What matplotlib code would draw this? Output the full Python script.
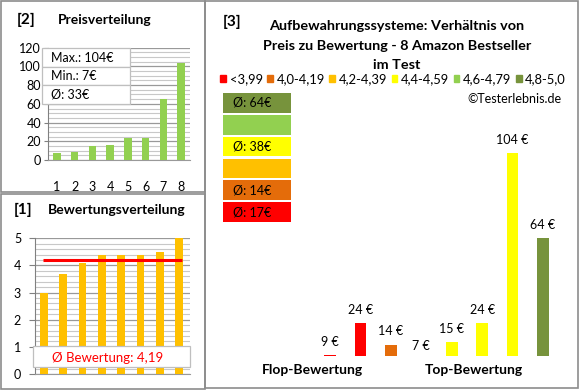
import matplotlib
matplotlib.use("Agg")
import matplotlib.pyplot as plt
from matplotlib.patches import Rectangle, Patch
from matplotlib.ticker import MultipleLocator

plt.rcParams['font.family'] = ['Lato', 'DejaVu Sans']

# data
price_idx = [1, 2, 3, 4, 5, 6, 7, 8]
prices_sorted = [7, 9, 15, 16, 24, 24, 65, 104]
ratings_sorted = [3.0, 3.7, 4.1, 4.4, 4.4, 4.4, 4.5, 5.0]
avg_rating = 4.19
price_stats = ['Max.: 104€', 'Min.: 7€', 'Ø: 33€']

# products ordered by rating (panel 3)
prod_prices = [9, 24, 14, 7, 15, 24, 104, 64]
prod_colors = ['#FF0000', '#FF0000', '#E46C0A', '#FFFF00', '#FFFF00', '#FFFF00', '#FFFF00', '#77933C']
class_labels = ['<3,99', '4,0-4,19', '4,2-4,39', '4,4-4,59', '4,6-4,79', '4,8-5,0']
class_colors = ['#FF0000', '#E46C0A', '#FFC000', '#FFFF00', '#92D050', '#77933C']
class_avgs = ['Ø: 17€', 'Ø: 14€', '', 'Ø: 38€', '', 'Ø: 64€']

W, H = 580, 390
def fx(x):
    return x / W
def fy(y):
    return 1 - y / H
def rect(x0, y0, x1, y1):
    return [fx(x0), fy(y1), fx(x1) - fx(x0), fy(y0) - fy(y1)]

fig = plt.figure(figsize=(5.8, 3.9), dpi=100)
fig.patch.set_facecolor('white')

# panel borders
border = '#8c8c8c'
for (x0, y0, x1, y1) in [(1, 1, 205, 192), (1, 194, 205, 389), (205, 1, 578, 388)]:
    fig.add_artist(Rectangle((fx(x0), fy(y1)), fx(x1) - fx(x0), fy(y0) - fy(y1),
                             transform=fig.transFigure, fill=False, ec=border, lw=1.2))

# ---- [2] Preisverteilung
ax2 = fig.add_axes(rect(48, 47.7, 190, 160))
ax2.bar(price_idx, prices_sorted, width=0.43, color='#92D050', zorder=3)
ax2.set_xlim(0.5, 8.5)
ax2.set_ylim(0, 120)
ax2.yaxis.set_major_locator(MultipleLocator(20))
ax2.yaxis.set_minor_locator(MultipleLocator(5))
ax2.grid(axis='y', which='minor', color='#c8c8c8', lw=0.8)
ax2.grid(axis='y', which='major', color='#999999', lw=0.9)
ax2.set_xticks(price_idx)
ax2.tick_params(axis='x', length=0, pad=15, labelsize=9)
ax2.tick_params(axis='y', which='major', length=3, color='#808080', labelsize=9, pad=2)
ax2.tick_params(axis='y', which='minor', length=0)
for s in ['top', 'right']:
    ax2.spines[s].set_visible(False)
ax2.spines['left'].set_color('#808080')
ax2.spines['bottom'].set_color('#999999')
fig.text(fx(17), fy(20), '[2]', fontsize=11, fontweight='bold', va='center')
fig.text(fx(58), fy(20), 'Preisverteilung', fontsize=10, fontweight='bold', va='center')
# stats box
rows = [(48, 67), (67, 85), (85, 104)]
for (y0, y1), s in zip(rows, price_stats):
    fig.add_artist(Rectangle((fx(42), fy(y1)), fx(130) - fx(42), fy(y0) - fy(y1),
                             transform=fig.transFigure, fc='white', ec='#bfbfbf', lw=0.9, zorder=5))
    fig.text(fx(51), fy((y0 + y1) / 2), s, fontsize=9, va='center', zorder=6)

# ---- [1] Bewertungsverteilung
ax1 = fig.add_axes(rect(35, 238.3, 190, 374))
ax1.bar(price_idx, ratings_sorted, width=0.4, color='#FFC000', zorder=3)
ax1.hlines(avg_rating, 0.95, 8.15, color='#FF0000', lw=2.2, zorder=4)
ax1.set_xlim(0.55, 8.55)
ax1.set_ylim(0, 5)
ax1.yaxis.set_major_locator(MultipleLocator(1))
ax1.yaxis.set_minor_locator(MultipleLocator(0.2))
ax1.grid(axis='y', which='minor', color='#c8c8c8', lw=0.8)
ax1.grid(axis='y', which='major', color='#999999', lw=0.9)
ax1.set_xticks([])
ax1.tick_params(axis='y', which='major', length=4, color='#808080', labelsize=9, pad=6)
ax1.tick_params(axis='y', which='minor', length=0)
for s in ['top', 'right']:
    ax1.spines[s].set_visible(False)
ax1.spines['left'].set_color('#808080')
ax1.spines['bottom'].set_color('#999999')
fig.add_artist(Rectangle((fx(33), fy(366.5)), fx(190) - fx(33), fy(345.7) - fy(366.5),
                         transform=fig.transFigure, fc='white', ec='#bfbfbf', lw=0.9, zorder=5))
fig.text(fx(108), fy(357.5), 'Ø Bewertung: 4,19', fontsize=9.5, color='#FF0000',
         ha='center', va='center', zorder=6)
fig.text(fx(14), fy(210), '[1]', fontsize=11, fontweight='bold', va='center')
fig.text(fx(48), fy(210), 'Bewertungsverteilung', fontsize=10, fontweight='bold', va='center')

# ---- [3] Preis zu Bewertung
fig.text(fx(223), fy(22), '[3]', fontsize=11, fontweight='bold', va='center')
title = ['Aufbewahrungssysteme: Verhältnis von',
         'Preis zu Bewertung - 8 Amazon Bestseller',
         'im Test']
for i, t in enumerate(title):
    fig.text(fx(397), fy(26 + 19.5 * i), t, fontsize=10.4, fontweight='bold',
             ha='center', va='center')
handles = [Patch(color=c) for c in class_colors]
fig.legend(handles, class_labels, loc='center', bbox_to_anchor=(fx(393), fy(79)),
           ncol=6, frameon=False, fontsize=9.4, handlelength=0.45, handleheight=0.45,
           handletextpad=0.25, columnspacing=0.35, borderpad=0)
fig.text(fx(562), fy(99), '©Testerlebnis.de', fontsize=9, ha='right', va='center')

# class average boxes
axb = fig.add_axes(rect(223, 92, 291, 223))
ypos = list(range(len(class_colors)))
axb.barh(ypos, [1] * len(ypos), height=0.9, color=class_colors)
axb.set_xlim(0, 1)
axb.set_ylim(-0.5, len(ypos) - 0.5)
for y, s in zip(ypos, class_avgs):
    axb.text(0.14, y, s, fontsize=9, va='center')
axb.axis('off')

ax3 = fig.add_axes(rect(299.6, 140.5, 573.4, 356))
pos = list(range(1, len(prod_prices) + 1))
ax3.bar(pos, prod_prices, width=0.39, color=prod_colors)
ax3.set_xlim(0, 9)
ax3.set_ylim(8.6, 110)
for p, v in zip(pos, prod_prices):
    ax3.annotate(f'{v} €', (p, v), xytext=(0, 9.5), textcoords='offset points',
                 ha='center', va='center', fontsize=9, annotation_clip=False)
ax3.axis('off')
fig.text(fx(312), fy(370), 'Flop-Bewertung', fontsize=10, fontweight='bold', ha='center', va='center')
fig.text(fx(474), fy(370), 'Top-Bewertung', fontsize=10, fontweight='bold', ha='center', va='center')

fig.savefig('out.png', dpi=100)
